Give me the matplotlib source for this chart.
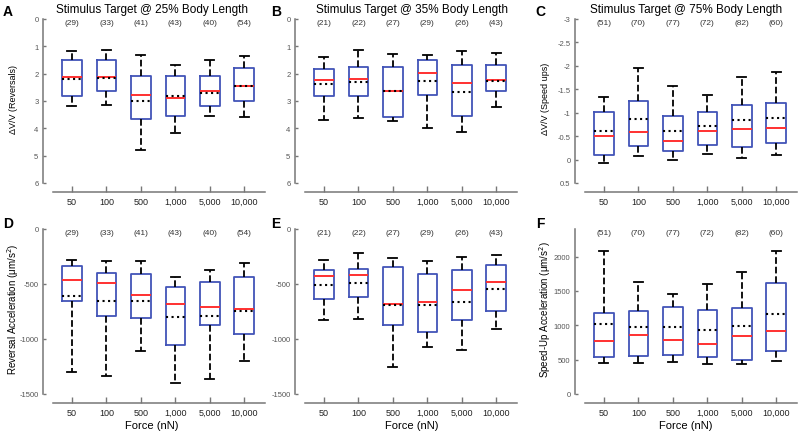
import matplotlib
matplotlib.use("Agg")
import matplotlib.pyplot as plt
from matplotlib.transforms import blended_transform_factory

plt.rcParams['font.family'] = ['Liberation Sans', 'DejaVu Sans']
plt.rcParams['axes.unicode_minus'] = False

forces = ['50', '100', '500', '1,000', '5,000', '10,000']

# A: reversals, 25% body length
a_n = [29, 33, 41, 43, 40, 54]
a_whislo = [1.18, 1.12, 1.32, 1.67, 1.50, 1.37]
a_q1 = [1.50, 1.50, 2.10, 2.10, 2.10, 1.79]
a_med = [2.11, 2.13, 2.78, 2.90, 2.65, 2.46]
a_mean = [2.20, 2.17, 2.99, 2.83, 2.70, 2.46]
a_q3 = [2.80, 2.65, 3.66, 3.56, 3.20, 2.99]
a_whishi = [3.20, 3.15, 4.78, 4.18, 3.54, 3.57]

# B: reversals, 35% body length
b_n = [21, 22, 27, 29, 26, 43]
b_whislo = [1.40, 1.13, 1.28, 1.32, 1.18, 1.26]
b_q1 = [1.83, 1.74, 1.77, 1.50, 1.67, 1.68]
b_med = [2.23, 2.20, 2.65, 1.98, 2.34, 2.23]
b_mean = [2.38, 2.32, 2.65, 2.26, 2.68, 2.28]
b_q3 = [2.83, 2.80, 3.60, 2.78, 3.54, 2.62]
b_whishi = [3.70, 3.62, 3.74, 3.99, 4.12, 3.21]

# C: speed ups, 75% body length
c_n = [51, 70, 77, 72, 82, 60]
c_whislo = [-1.34, -1.96, -1.57, -1.37, -1.76, -1.87]
c_q1 = [-1.01, -1.26, -0.92, -1.01, -1.17, -1.20]
c_med = [-0.51, -0.58, -0.39, -0.61, -0.66, -0.68]
c_mean = [-0.62, -0.86, -0.61, -0.71, -0.85, -0.89]
c_q3 = [-0.10, -0.29, -0.19, -0.31, -0.26, -0.36]
c_whishi = [0.08, -0.08, 0.00, -0.11, -0.04, -0.10]

# D: reversal acceleration, 25%
d_n = a_n
d_whislo = [-1298, -1337, -1113, -1399, -1362, -1202]
d_q1 = [-653, -794, -807, -1055, -877, -951]
d_med = [-463, -494, -601, -678, -712, -724]
d_mean = [-607, -650, -653, -804, -794, -748]
d_q3 = [-334, -402, -411, -525, -479, -439]
d_whishi = [-279, -294, -294, -433, -371, -310]

# E: reversal acceleration, 35%
e_n = [21, 22, 27, 29, 26, 43]
e_whislo = [-823, -820, -1251, -1075, -1100, -906]
e_q1 = [-635, -620, -872, -940, -826, -746]
e_med = [-429, -417, -682, -663, -555, -485]
e_mean = [-506, -488, -694, -694, -660, -543]
e_q3 = [-371, -362, -346, -408, -374, -325]
e_whishi = [-285, -217, -266, -291, -251, -235]

# F: speed-up acceleration, 75%
f_n = c_n
f_whislo = [448, 457, 472, 433, 433, 477]
f_q1 = [545, 560, 569, 540, 496, 628]
f_med = [774, 856, 783, 730, 837, 910]
f_mean = [1017, 978, 978, 934, 988, 1163]
f_q3 = [1178, 1207, 1265, 1217, 1246, 1620]
f_whishi = [2083, 1625, 1460, 1596, 1771, 2073]

W, H = 800, 435
fig = plt.figure(figsize=(W / 100, H / 100), dpi=100)

panels = [
    # letter, left px, data top px, data bottom px, data
    ('A', 53, 20, 184, (a_n, a_whislo, a_q1, a_med, a_mean, a_q3, a_whishi)),
    ('B', 305, 20, 184, (b_n, b_whislo, b_q1, b_med, b_mean, b_q3, b_whishi)),
    ('C', 585, 20, 184, (c_n, c_whislo, c_q1, c_med, c_mean, c_q3, c_whishi)),
    ('D', 53, 230, 395, (d_n, d_whislo, d_q1, d_med, d_mean, d_q3, d_whishi)),
    ('E', 305, 230, 395, (e_n, e_whislo, e_q1, e_med, e_mean, e_q3, e_whishi)),
    ('F', 585, 230, 395, (f_n, f_whislo, f_q1, f_med, f_mean, f_q3, f_whishi)),
]

ylims = {'A': (6, 0), 'B': (6, 0), 'C': (0.5, -3),
         'D': (-1500, 0), 'E': (-1500, 0), 'F': (0, 2400)}
yticks = {'A': range(0, 7), 'B': range(0, 7),
          'C': [-3, -2.5, -2, -1.5, -1, -0.5, 0, 0.5],
          'D': [0, -500, -1000, -1500], 'E': [0, -500, -1000, -1500],
          'F': [0, 500, 1000, 1500, 2000]}
titles = {'A': 'Stimulus Target @ 25% Body Length',
          'B': 'Stimulus Target @ 35% Body Length',
          'C': 'Stimulus Target @ 75% Body Length'}
ylabels = {'A': 'ΔV/V (Reversals)', 'C': 'ΔV/V (Speed ups)',
           'D': 'Reversal Acceleration (μm/s$^2$)',
           'F': 'Speed-Up Acceleration (μm/s$^2$)'}
col_center = {53: 152, 305: 412, 585: 686}
letter_x = {53: 8, 305: 276, 585: 540}

spine_col = '#777777'
box_col = '#4254b8'

for letter, left, top, bottom, data in panels:
    n, wlo, q1, med, mean, q3, whi = data
    ax = fig.add_axes([left / W, 1 - bottom / H, 212 / W, (bottom - top) / H])
    stats = []
    for i in range(len(forces)):
        stats.append({'med': med[i], 'q1': q1[i], 'q3': q3[i], 'mean': mean[i],
                      'whislo': wlo[i], 'whishi': whi[i], 'fliers': []})
    ax.bxp(stats, positions=range(1, 7), widths=0.57, capwidths=0.26,
           showmeans=True, meanline=True, showfliers=False,
           boxprops=dict(color=box_col, linewidth=1.3),
           medianprops=dict(color='#ff3030', linewidth=1.4),
           meanprops=dict(color='black', linestyle=':', linewidth=1.5),
           whiskerprops=dict(color='black', linestyle='--', linewidth=1.3),
           capprops=dict(color='black', linewidth=1.3))
    ax.set_xlim(0.45, 6.6)
    ax.set_ylim(*ylims[letter])
    ax.set_yticks(list(yticks[letter]))
    ax.set_yticklabels(['%g' % v for v in yticks[letter]])
    ax.set_xticks(range(1, 7))
    ax.set_xticklabels(forces)
    for s in ['top', 'right']:
        ax.spines[s].set_visible(False)
    ax.spines['left'].set_position(('outward', 7.5))
    ax.spines['bottom'].set_position(('outward', 6.8))
    for s in ['left', 'bottom']:
        ax.spines[s].set_color(spine_col)
        ax.spines[s].set_linewidth(1.1)
    ax.tick_params(axis='x', direction='in', length=4.5, width=1, color=spine_col,
                   labelsize=6.5, labelcolor='#222222', pad=3)
    ax.tick_params(axis='y', direction='in', length=2.5, width=1, color=spine_col,
                   labelsize=5.5, labelcolor='#555555', pad=3)
    ax.patch.set_visible(False)

    tr = blended_transform_factory(ax.transData, ax.transAxes)
    for i, cnt in enumerate(n):
        ax.text(i + 1, 0.98, '(%d)' % cnt, transform=tr, ha='center', va='center',
                fontsize=6, color='#333333')

    cx = col_center[left]
    if letter in titles:
        fig.text(cx / W, 1 - 10 / H, titles[letter], ha='center', va='center',
                 fontsize=8.5)
    else:
        fig.text(cx / W, 1 - 426 / H, 'Force (nN)', ha='center', va='center',
                 fontsize=8)
    if letter in ylabels:
        fs = 6.5 if letter in 'AC' else 7
        fig.text((left - 40) / W, 1 - (top + bottom - 6) / 2 / H, ylabels[letter],
                 rotation=90, ha='center', va='center', fontsize=fs)
    ly = 12 if letter in 'ABC' else 224
    fig.text(letter_x[left] / W, 1 - ly / H, letter, ha='center', va='center',
             fontsize=10, fontweight='bold')

fig.savefig('out.png', dpi=100)
